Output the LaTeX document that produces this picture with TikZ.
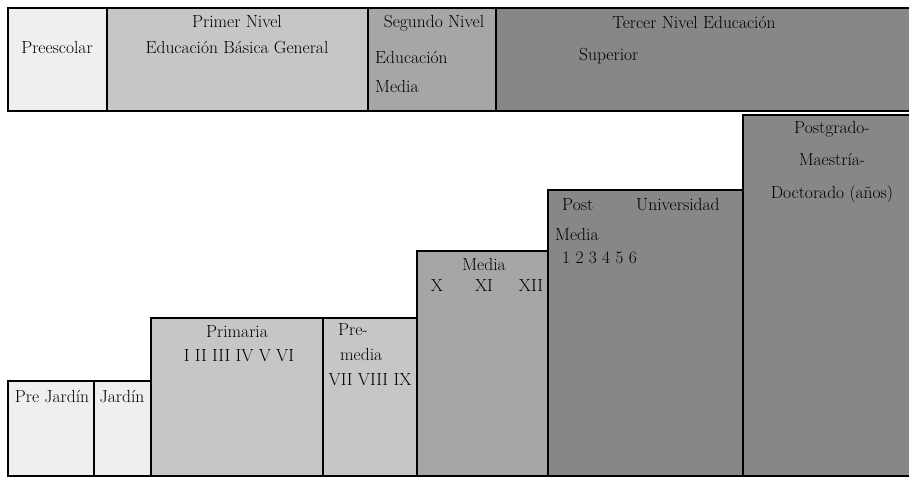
\documentclass[tikz,border=0pt]{standalone}
\usepackage{tikz}
\usetikzlibrary{positioning}
\definecolor{nivA}{HTML}{EFEFEF}
\definecolor{nivB}{HTML}{C6C6C6}
\definecolor{nivC}{HTML}{A6A6A6}
\definecolor{nivD}{HTML}{878787}

\begin{document}
\begin{tikzpicture}
  [x=1pt,y=-1pt,every node/.style={inner sep=0pt,font=\fontsize{17.5}{21}\selectfont}]
  \useasboundingbox (0,0) rectangle (909,477);
  \clip (0,0) rectangle (909,477);

  % niveles (fila de arriba) y escalones
  \foreach \xa/\ya/\xb/\yb/\col in {8/8/107/111/nivA, 107/8/368/111/nivB,
      368/8/496/111/nivC, 496/8/915/111/nivD,
      743/115/915/476/nivD, 548/190/743/476/nivD, 417/251/548/476/nivC,
      323/318/417/476/nivB, 151/318/323/476/nivB,
      94/381/151/476/nivA, 8/381/94/476/nivA}
    \draw[line width=2pt,fill=\col] (\xa,\ya) rectangle (\xb,\yb);

  \node[anchor=base] (presc) at (57,53) {Preescolar};
  \node[anchor=base] (niv1a) at (237,27) {Primer Nivel};
  \node[anchor=base] (niv1b) at (237,53) {Educación Básica General};
  \node[anchor=base] (niv2a) at (434,27) {Segundo Nivel};
  \node[anchor=base west] (niv2b) at (375,63) {Educación};
  \node[anchor=base west] (niv2c) at (375,92) {Media};
  \node[anchor=base] (niv3a) at (694,28) {Tercer Nivel Educación};
  \node[anchor=base west] (niv3b) at (579,60) {Superior};

  \node[anchor=base] (postg1) at (832,133) {Postgrado-};
  \node[anchor=base] (postg2) at (832,165) {Maestría-};
  \node[anchor=base] (postg3) at (832,198) {Doctorado (años)};
  \node[anchor=base west] (univ1) at (562,210) {Post};
  \node[anchor=base west] (univ2) at (636,210) {Universidad};
  \node[anchor=base west] (univ3) at (555,240) {Media};
  \node[anchor=base west] (univ4) at (562,263) {1 2 3 4 5 6};
  \node[anchor=base] (media1) at (484,270) {Media};
  \node[anchor=base] (media2) at (437,291) {X};
  \node[anchor=base] (media3) at (484,291) {XI};
  \node[anchor=base] (media4) at (531,291) {XII};
  \node[anchor=base west] (prem1) at (338,335) {Pre-};
  \node[anchor=base west] (prem2) at (340,360) {media};
  \node[anchor=base] (prem3) at (370,385) {VII VIII IX};
  \node[anchor=base] (prim1) at (237,337) {Primaria};
  \node[anchor=base] (prim2) at (239,361) {I II III IV V VI};
  \node[anchor=base] (prejar) at (52,402) {Pre Jardín};
  \node[anchor=base] (jardin) at (122,402) {Jardín};
\end{tikzpicture}
\end{document}
